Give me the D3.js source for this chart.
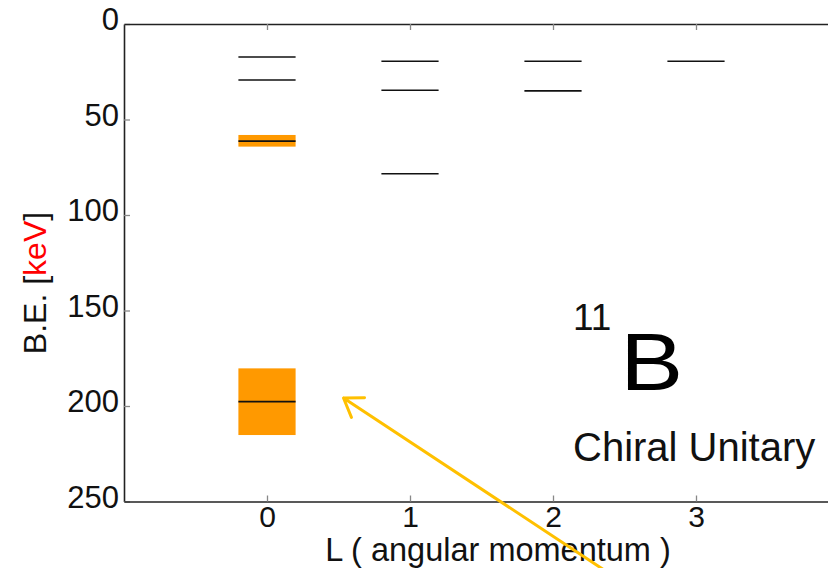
<!DOCTYPE html>
<html>
<head>
<meta charset="utf-8">
<script src="https://cdn.jsdelivr.net/npm/d3@7"></script>
<style>
  body { margin: 0; background: #fff; }
  svg { display: block; font-family: "Liberation Sans", Arial, sans-serif; }
</style>
</head>
<body>
<div id="chart"></div>
<script>
// angular momentum L and the binding energies (keV) of each level
const levelL = [0, 0, 0, 0, 1, 1, 1, 2, 2, 3];
const levelBE = [17.3, 29.3, 61.3, 197.7, 19.5, 34.7, 78.4, 19.5, 35, 19.5];

// error bands (orange) for the two deep L=0 levels
const bandL = [0, 0];
const bandLow = [58.1, 180.3];
const bandHigh = [64.2, 215.2];

const xTicks = [0, 1, 2, 3];
const yTicks = [0, 50, 100, 150, 200, 250];

const width = 828, height = 568;
const margin = { top: 24, right: -11, bottom: 66.5, left: 124 };

const svg = d3.select("#chart").append("svg")
    .attr("width", width)
    .attr("height", height);

const x = d3.scaleLinear().domain([-1, 4]).range([margin.left, width - margin.right]);
const y = d3.scaleLinear().domain([0, 250]).range([margin.top, height - margin.bottom]);

const halfW = 0.2;

// orange uncertainty boxes
svg.selectAll("rect.band")
    .data(bandL.map((l, i) => ({ l: l, lo: bandLow[i], hi: bandHigh[i] })))
    .enter().append("rect")
    .attr("class", "band")
    .attr("x", d => x(d.l - halfW))
    .attr("y", d => y(d.lo))
    .attr("width", d => x(d.l + halfW) - x(d.l - halfW))
    .attr("height", d => y(d.hi) - y(d.lo))
    .style("fill", "#ff9900");

// level lines
svg.selectAll("line.level")
    .data(levelL.map((l, i) => ({ l: l, e: levelBE[i] })))
    .enter().append("line")
    .attr("class", "level")
    .attr("x1", d => x(d.l - halfW))
    .attr("x2", d => x(d.l + halfW))
    .attr("y1", d => y(d.e))
    .attr("y2", d => y(d.e))
    .style("stroke", "#111")
    .style("stroke-width", 1.6);

// axes, ticks pointing inwards
function styleAxis(g) {
    g.select(".domain").style("stroke", "#222").style("stroke-width", 1.6);
    g.selectAll(".tick line").style("stroke", "#888").style("stroke-width", 1.3);
    g.selectAll(".tick text").style("font-size", "31px").style("fill", "#111");
}

const gLeft = svg.append("g")
    .attr("transform", "translate(" + margin.left + ",0)")
    .call(d3.axisLeft(y).tickValues(yTicks).tickSize(-6).tickSizeOuter(0).tickPadding(5));
styleAxis(gLeft);
gLeft.selectAll(".tick text").attr("dy", "5.5px");

const gBottom = svg.append("g")
    .attr("transform", "translate(0," + (height - margin.bottom) + ")")
    .call(d3.axisBottom(x).tickValues(xTicks).tickFormat(d3.format("d"))
        .tickSize(-6).tickSizeOuter(0).tickPadding(4));
styleAxis(gBottom);
gBottom.selectAll(".tick text").style("font-size", "30px");

const gTop = svg.append("g")
    .attr("transform", "translate(0," + margin.top + ")")
    .call(d3.axisTop(x).tickValues(xTicks).tickSize(-6).tickSizeOuter(0).tickFormat(""));
styleAxis(gTop);

const gRight = svg.append("g")
    .attr("transform", "translate(" + (width - margin.right) + ",0)")
    .call(d3.axisRight(y).tickValues(yTicks).tickSize(-6).tickSizeOuter(0).tickFormat(""));
styleAxis(gRight);

// axis labels
svg.append("text")
    .attr("x", 498)
    .attr("y", 561)
    .attr("text-anchor", "middle")
    .style("font-size", "32.5px")
    .style("fill", "#111")
    .text("L ( angular momentum )");

const yl = svg.append("text")
    .attr("transform", "translate(46,283) rotate(-90)")
    .attr("text-anchor", "middle")
    .style("font-size", "32px")
    .style("fill", "#111");
yl.append("tspan").text("B.E. [");
yl.append("tspan").style("fill", "#ff0000").text("keV");
yl.append("tspan").text("]");

// nucleus annotation
svg.append("text")
    .attr("transform", "translate(" + x(2.47) + "," + y(191.5) + ") scale(1.15,1)")
    .style("font-size", "82px")
    .style("fill", "#000")
    .text("B");
svg.append("text")
    .attr("x", x(2.14))
    .attr("y", y(160.3))
    .style("font-size", "37px")
    .style("fill", "#111")
    .text("11");
svg.append("text")
    .attr("x", x(2.14))
    .attr("y", y(229))
    .style("font-size", "40px")
    .style("fill", "#111")
    .text("Chiral Unitary");

// yellow arrow pointing at the deep L=0 level
const tip = [x(0.535), y(195.8)];
const tail = [x(2.36), y(286)];
const ang = Math.atan2(tail[1] - tip[1], tail[0] - tip[0]);
const barb = 21, spread = 0.6;
const arrow = d3.path();
arrow.moveTo(tail[0], tail[1]);
arrow.lineTo(tip[0], tip[1]);
arrow.moveTo(tip[0] + barb * Math.cos(ang - spread), tip[1] + barb * Math.sin(ang - spread));
arrow.lineTo(tip[0], tip[1]);
arrow.lineTo(tip[0] + barb * Math.cos(ang + spread), tip[1] + barb * Math.sin(ang + spread));
svg.append("path")
    .attr("d", arrow.toString())
    .style("fill", "none")
    .style("stroke", "#ffc000")
    .style("stroke-width", 3)
    .style("stroke-linecap", "round")
    .style("stroke-linejoin", "round");
</script>
</body>
</html>
